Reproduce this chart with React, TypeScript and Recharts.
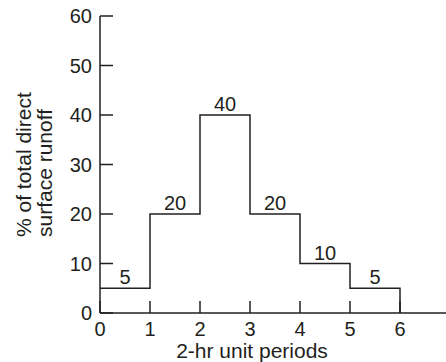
import { ComposedChart, Line, XAxis, YAxis, Label, LabelList } from 'recharts';

const periodStarts = [0, 1, 2, 3, 4, 5];
const runoffPct = [5, 20, 40, 20, 10, 5];
const xTicks = [0, 1, 2, 3, 4, 5, 6];
const yTicks = [0, 10, 20, 30, 40, 50, 60];

const INK = '#231f20';
const FONT = '"Liberation Sans", Arial, Helvetica, sans-serif';

// step outline: each period starts at its value, drop back to 0 at the end
const stepData = [
  ...periodStarts.map((t, i) => ({ t, pct: runoffPct[i] })),
  { t: periodStarts[periodStarts.length - 1] + 1, pct: 0 },
];
// label points sit in the middle of each period
const labelData = periodStarts.map((t, i) => ({ t: t + 0.5, pct: runoffPct[i] }));

const XTick = (props: any) => {
  const { x, y, payload } = props;
  return (
    <g>
      <line x1={x} y1={y} x2={x} y2={y - 12} stroke={INK} strokeWidth={1.5} />
      <text x={x} y={y + 23} textAnchor="middle" fill={INK} fontSize={20} fontFamily={FONT}>
        {payload.value}
      </text>
    </g>
  );
};

const YTick = (props: any) => {
  const { x, y, payload } = props;
  return (
    <g>
      <line x1={x} y1={y} x2={x + 13} y2={y} stroke={INK} strokeWidth={1.5} />
      <text x={x - 8} y={y + 7} textAnchor="end" fill={INK} fontSize={20} fontFamily={FONT}>
        {payload.value}
      </text>
    </g>
  );
};

const App = () => {
  return (
    <div style={{ position: 'absolute', left: 0, top: 0 }}>
      <ComposedChart
        width={446}
        height={362}
        data={stepData}
        margin={{ top: 16, right: 0, left: 0, bottom: 0 }}
      >
        <XAxis
          type="number"
          dataKey="t"
          domain={[0, 6.92]}
          ticks={xTicks}
          allowDataOverflow
          interval={0}
          height={49}
          tickSize={0}
          tickMargin={0}
          tickLine={false}
          axisLine={{ stroke: INK, strokeWidth: 1.5 }}
          tick={<XTick />}
        >
          <Label
            content={() => (
              <text x={252} y={358} textAnchor="middle" fill={INK} fontSize={21} fontFamily={FONT}>
                2-hr unit periods
              </text>
            )}
          />
        </XAxis>
        <YAxis
          type="number"
          domain={[0, 60]}
          ticks={yTicks}
          interval={0}
          width={100}
          tickSize={0}
          tickMargin={0}
          tickLine={false}
          axisLine={{ stroke: INK, strokeWidth: 1.5 }}
          tick={<YTick />}
        >
          <Label
            content={() => (
              <g fill={INK} fontSize={21} fontFamily={FONT}>
                <text x={31} y={237} transform="rotate(-90, 31, 237)" textAnchor="start">
                  % of total direct
                </text>
                <text x={52} y={237} transform="rotate(-90, 52, 237)" textAnchor="start">
                  surface runoff
                </text>
              </g>
            )}
          />
        </YAxis>
        <Line
          type="stepAfter"
          dataKey="pct"
          stroke={INK}
          strokeWidth={1.5}
          dot={false}
          activeDot={false}
          isAnimationActive={false}
        />
        <Line
          data={labelData}
          dataKey="pct"
          stroke="none"
          dot={false}
          activeDot={false}
          isAnimationActive={false}
        >
          <LabelList
            dataKey="pct"
            position="top"
            offset={4}
            fill={INK}
            fontSize={20}
            fontFamily={FONT}
          />
        </Line>
      </ComposedChart>
    </div>
  );
};

export default App;
